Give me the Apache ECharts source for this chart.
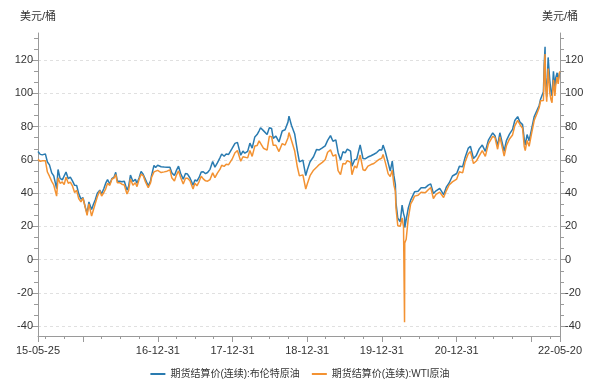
<!DOCTYPE html>
<html><head><meta charset="utf-8">
<script src="https://cdn.jsdelivr.net/npm/echarts@6/dist/echarts.min.js"></script>
<style>html,body{margin:0;padding:0;background:#fff}#c{width:600px;height:379px}</style>
</head><body><div id="c"></div>
<script>
const seriesNames = ['期货结算价(连续):布伦特原油', '期货结算价(连续):WTI原油'];
const unitName = '美元/桶';
const dates = [
'2015-05-25','2015-06-05','2015-06-15','2015-06-30','2015-07-10','2015-07-20','2015-07-31','2015-08-10','2015-08-24','2015-08-31',
'2015-09-10','2015-09-21','2015-09-30','2015-10-09','2015-10-20','2015-10-30','2015-11-10','2015-11-20','2015-11-30','2015-12-10',
'2015-12-21','2015-12-31','2016-01-11','2016-01-20','2016-01-29','2016-02-11','2016-02-19','2016-02-29','2016-03-10','2016-03-22',
'2016-03-31','2016-04-11','2016-04-20','2016-04-29','2016-05-10','2016-05-20','2016-05-31','2016-06-08','2016-06-16','2016-06-27',
'2016-07-08','2016-07-20','2016-08-02','2016-08-10','2016-08-19','2016-08-31','2016-09-12','2016-09-20','2016-09-30','2016-10-10',
'2016-10-20','2016-10-31','2016-11-14','2016-11-25','2016-11-30','2016-12-12','2016-12-20','2016-12-30','2017-01-06','2017-01-16',
'2017-01-31','2017-02-14','2017-02-28','2017-03-09','2017-03-22','2017-03-31','2017-04-11','2017-04-21','2017-05-04','2017-05-15',
'2017-05-25','2017-06-06','2017-06-21','2017-06-30','2017-07-10','2017-07-20','2017-07-31','2017-08-10','2017-08-21','2017-08-31',
'2017-09-12','2017-09-25','2017-10-06','2017-10-18','2017-10-31','2017-11-08','2017-11-20','2017-11-30','2017-12-12','2017-12-29',
'2018-01-12','2018-01-24','2018-02-09','2018-02-20','2018-03-01','2018-03-15','2018-03-26','2018-04-06','2018-04-19','2018-04-30',
'2018-05-10','2018-05-17','2018-05-31','2018-06-18','2018-06-29','2018-07-10','2018-07-18','2018-07-31','2018-08-15','2018-08-31',
'2018-09-14','2018-09-28','2018-10-03','2018-10-15','2018-10-31','2018-11-13','2018-11-23','2018-11-30','2018-12-10','2018-12-24',
'2018-12-31','2019-01-14','2019-01-31','2019-02-15','2019-02-28','2019-03-15','2019-03-29','2019-04-10','2019-04-24','2019-05-06',
'2019-05-20','2019-05-31','2019-06-12','2019-06-24','2019-07-05','2019-07-15','2019-07-31','2019-08-07','2019-08-20','2019-08-30',
'2019-09-16','2019-09-30','2019-10-10','2019-10-24','2019-11-08','2019-11-22','2019-12-06','2019-12-20','2019-12-31','2020-01-06',
'2020-01-17','2020-01-31','2020-02-10','2020-02-20','2020-02-28','2020-03-06','2020-03-09','2020-03-18','2020-03-30','2020-04-08',
'2020-04-15','2020-04-20','2020-04-21','2020-04-28','2020-05-08','2020-05-20','2020-05-29','2020-06-08','2020-06-25','2020-07-10',
'2020-07-31','2020-08-14','2020-08-26','2020-09-08','2020-09-21','2020-10-09','2020-10-28','2020-11-02','2020-11-10','2020-11-24',
'2020-12-10','2020-12-31','2021-01-13','2021-01-29','2021-02-10','2021-02-25','2021-03-08','2021-03-23','2021-04-06','2021-04-20',
'2021-05-05','2021-05-20','2021-06-04','2021-06-25','2021-07-06','2021-07-19','2021-07-30','2021-08-20','2021-08-31','2021-09-15',
'2021-09-30','2021-10-11','2021-10-25','2021-11-05','2021-11-18','2021-11-26','2021-12-01','2021-12-10','2021-12-20','2021-12-31',
'2022-01-14','2022-01-26','2022-02-07','2022-02-14','2022-02-28','2022-03-04','2022-03-08','2022-03-10','2022-03-16','2022-03-23',
'2022-03-31','2022-04-06','2022-04-11','2022-04-18','2022-04-25','2022-04-29','2022-05-06','2022-05-11','2022-05-17','2022-05-20'
];
const brent = [
65.0,63.3,63.0,63.6,58.7,57.0,52.2,50.4,42.7,54.2,
48.9,48.0,48.4,52.7,48.7,49.6,47.2,44.7,44.6,39.7,
36.4,37.3,31.6,27.9,34.7,30.1,33.0,36.0,40.0,41.8,
39.6,42.8,46.0,48.1,45.5,48.7,49.7,52.5,47.2,47.2,
46.8,47.2,41.8,44.1,50.9,47.0,48.3,46.0,49.1,53.1,
51.4,48.3,44.4,47.2,50.5,56.7,55.4,56.8,57.1,55.9,
55.7,55.6,55.6,52.2,50.6,53.5,56.2,52.0,48.4,51.8,
51.5,49.1,44.8,47.9,47.3,49.3,52.7,52.9,51.7,52.4,
54.3,59.0,55.6,58.2,61.4,63.5,62.2,63.6,63.3,66.9,
69.9,70.5,62.8,65.3,64.0,65.1,70.1,67.1,73.8,75.2,
77.5,79.3,77.6,75.3,79.4,78.9,72.9,74.3,70.8,77.4,
78.1,82.7,86.3,80.8,75.5,65.5,58.8,58.7,59.9,50.5,
53.8,58.9,61.9,66.3,66.0,67.2,68.4,71.7,74.6,71.2,
72.0,64.5,59.9,64.9,64.2,66.5,65.2,56.2,60.0,60.4,
69.0,60.8,60.6,61.7,62.5,63.4,64.4,66.1,66.0,68.9,
64.9,58.2,53.3,59.3,50.5,45.3,34.4,24.9,22.8,32.8,
27.7,25.6,19.3,20.5,30.9,35.8,35.3,40.8,41.1,43.2,
43.3,44.8,45.6,39.8,41.4,42.9,39.1,38.0,43.6,46.1,
50.3,51.8,56.1,55.9,61.5,66.9,68.2,60.8,62.7,66.6,
68.9,65.1,71.9,76.2,74.5,68.6,76.3,65.2,71.6,75.5,
78.3,83.7,86.0,82.7,81.2,72.7,68.9,75.2,71.5,77.8,
86.1,89.3,92.7,96.5,101.0,118.1,128.0,109.3,98.0,121.6,
107.9,101.1,98.5,113.2,102.3,109.3,112.4,107.5,111.9,112.6
];
const wti = [
60.3,59.1,59.5,59.5,52.7,50.2,47.1,44.9,38.2,49.2,
45.9,46.7,45.1,49.6,45.9,46.6,44.2,40.4,41.7,36.8,
34.7,37.0,31.4,26.6,33.6,26.2,29.6,33.8,37.8,41.5,
38.3,40.4,42.6,45.9,44.7,48.4,49.1,51.2,46.2,46.3,
45.4,44.9,39.5,41.7,48.5,44.7,46.3,43.9,48.2,51.4,
50.6,46.9,43.3,46.1,49.4,52.8,52.2,53.7,53.9,52.4,
52.8,53.2,54.0,49.3,47.3,50.6,53.4,49.6,45.5,48.9,
48.9,47.4,42.5,46.0,44.4,46.8,50.2,48.6,47.4,47.2,
48.2,52.2,49.3,52.0,54.4,56.8,56.1,57.4,57.1,60.4,
64.3,65.6,59.2,61.9,61.0,61.2,65.6,62.1,68.3,68.6,
71.4,71.5,67.0,65.9,74.2,73.9,68.8,68.8,65.0,69.8,
68.9,73.2,76.4,71.8,65.3,55.7,50.4,50.9,51.0,42.5,
45.4,50.5,53.8,55.6,57.2,58.5,60.1,64.6,66.0,62.3,
63.1,53.5,51.1,57.9,57.5,59.6,58.6,51.1,56.3,55.1,
62.9,54.1,53.6,56.2,57.2,57.8,59.2,60.4,61.1,63.3,
58.5,51.6,50.0,53.8,44.8,41.3,31.1,20.4,20.1,25.1,
19.9,-37.6,10.0,12.3,24.7,33.5,35.5,38.2,38.7,40.6,
40.3,42.0,43.4,36.8,39.3,40.6,37.4,36.8,41.4,44.9,
46.8,48.5,52.9,52.2,58.7,63.5,65.1,57.8,59.3,62.4,
65.6,62.1,69.6,74.1,73.4,66.4,73.9,62.3,68.5,72.6,
75.0,80.5,83.8,81.3,79.0,68.2,65.6,71.7,68.2,75.2,
83.8,87.4,91.3,95.5,95.7,115.7,123.7,106.0,95.0,114.9,
100.3,96.2,94.3,108.2,98.5,104.7,109.8,105.7,112.4,113.2
];
const xLabelDates = ['2015-05-25','2016-12-31','2017-12-31','2018-12-31','2019-12-31','2020-12-31','2022-05-20'];
const xMajorTickDates = ['2015-05-25','2015-12-31','2016-12-31','2017-12-31','2018-12-31','2019-12-31','2020-12-31','2021-12-31','2022-05-20'];
const yLabelValues = [-40,-20,0,20,40,60,80,100,120];

function ts(s){const p=s.split('-').map(Number);return Date.UTC(p[0],p[1]-1,p[2]);}
function pad(n){return (n<10?'0':'')+n;}
function fmt(v){const d=new Date(v);return String(d.getUTCFullYear()).slice(2)+'-'+pad(d.getUTCMonth()+1)+'-'+pad(d.getUTCDate());}

const xMin = ts(dates[0]), xMax = ts(dates[dates.length-1]);
// quarter-end minor ticks
const quarterTicks = [];
for (let y=2015;y<=2022;y++){
  [[3,31],[6,30],[9,30],[12,31]].forEach(q=>{const t=Date.UTC(y,q[0]-1,q[1]); if(t>xMin&&t<xMax) quarterTicks.push(t);});
}
const allVals = brent.concat(wti);
const dMin = Math.min.apply(null, allVals), dMax = Math.max.apply(null, allVals);
const pad5 = (dMax-dMin)*0.05;
const yMin = dMin - pad5, yMax = dMax + pad5;
const yMinor = [];
for (let k=0; ; k++){const v=-40+k*20/3; if(v>yMax) break; yMinor.push(v);}

const FONT = "'Liberation Sans','Noto Sans CJK SC',sans-serif";
const axisColor = '#9a9a9a';
const chart = echarts.init(document.getElementById('c'));
const mainY = (pos) => ({
  type:'value', position:pos, min:yMin, max:yMax,
  name: unitName, nameLocation:'end', nameGap:11,
  nameTextStyle:{color:'#333',fontSize:11,fontFamily:FONT, align:'center'},
  axisLine:{show:true,lineStyle:{color:axisColor,width:1}},
  axisTick:{show:true,length:6,customValues:yLabelValues,lineStyle:{color:axisColor}},
  axisLabel:{customValues:yLabelValues,color:'#333',fontSize:11,fontFamily:FONT,margin:5},
  splitLine:{show:pos==='left',lineStyle:{color:'#e0e0e0',type:[3,3],width:1}}
});
const minorY = (pos) => ({
  type:'value', position:pos, min:yMin, max:yMax,
  axisLine:{show:false},
  axisTick:{show:true,length:4,customValues:yMinor,lineStyle:{color:axisColor}},
  axisLabel:{show:false}, splitLine:{show:false}
});
chart.setOption({
  animation:false,
  backgroundColor:'#fff',
  grid:{left:38,right:40,top:33,bottom:43,containLabel:false,outerBoundsMode:'none'},
  legend:{
    data:seriesNames, left:'center', top:364, icon:'rect', itemWidth:15, itemHeight:2,
    itemGap:12, textStyle:{color:'#333',fontSize:10,fontFamily:FONT}
  },
  xAxis:[
    {type:'value',min:xMin,max:xMax,position:'bottom',
     axisLine:{show:true,onZero:false,lineStyle:{color:axisColor}},
     axisTick:{show:true,length:6,customValues:xMajorTickDates.map(ts),lineStyle:{color:axisColor}},
     axisLabel:{customValues:xLabelDates.map(ts),formatter:fmt,color:'#333',fontSize:11,fontFamily:FONT,margin:9},
     splitLine:{show:false}},
    {type:'value',min:xMin,max:xMax,position:'bottom',
     axisLine:{show:false,onZero:false},
     axisTick:{show:true,length:3,customValues:quarterTicks,lineStyle:{color:axisColor}},
     axisLabel:{show:false},splitLine:{show:false}}
  ],
  yAxis:[mainY('left'),mainY('right'),minorY('left'),minorY('right')],
  series:[
    {name:seriesNames[0],type:'line',showSymbol:false,symbol:'none',
     data:dates.map((d,i)=>[ts(d),brent[i]]),lineStyle:{color:'#2a7bb0',width:1.5},itemStyle:{color:'#2a7bb0'}},
    {name:seriesNames[1],type:'line',showSymbol:false,symbol:'none',
     data:dates.map((d,i)=>[ts(d),wti[i]]),lineStyle:{color:'#f39232',width:1.5},itemStyle:{color:'#f39232'}}
  ]
});
</script></body></html>
